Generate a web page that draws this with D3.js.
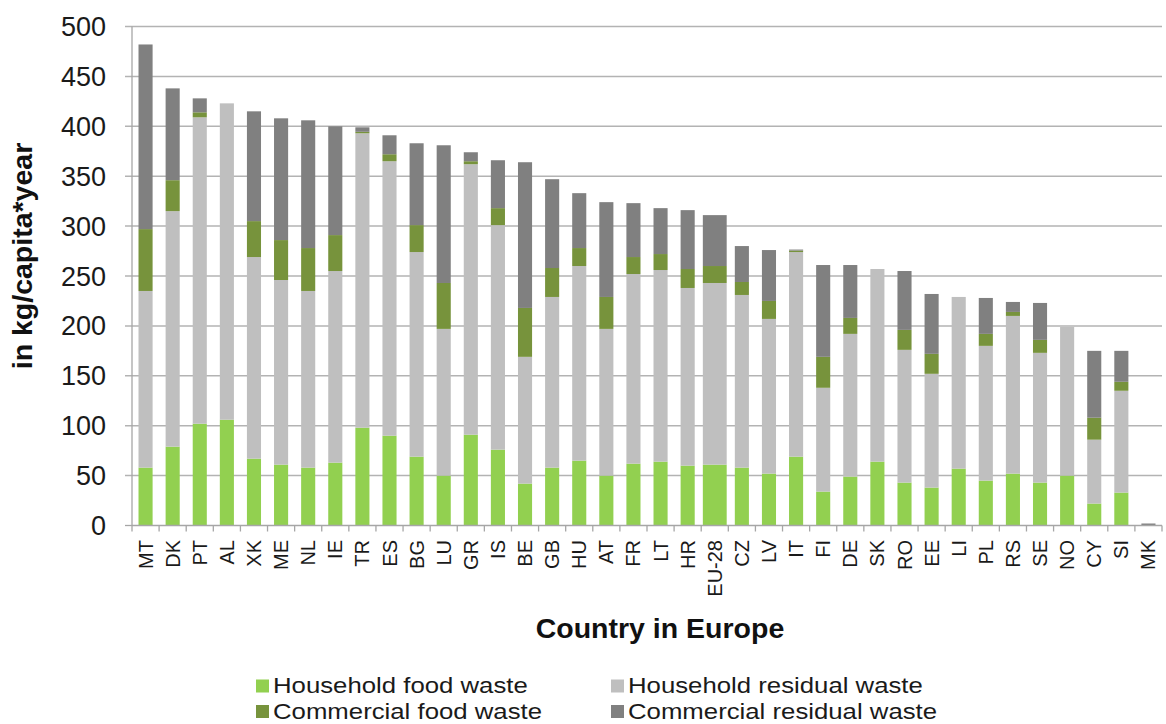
<!DOCTYPE html>
<html><head><meta charset="utf-8">
<script src="https://cdn.jsdelivr.net/npm/d3@7"></script>
<style>body{margin:0;background:#fff;} svg{display:block;font-family:"Liberation Sans",Arial,sans-serif;}</style>
</head><body>
<svg id="c" width="1166" height="724"></svg>
<script>
const categories = ["MT","DK","PT","AL","XK","ME","NL","IE","TR","ES","BG","LU","GR","IS","BE","GB","HU","AT","FR","LT","HR","EU-28","CZ","LV","IT","FI","DE","SK","RO","EE","LI","PL","RS","SE","NO","CY","SI","MK"];
const householdFood =    [58,79,102,106,67,61,58,63,98,90,69,50,91,76,42,58,65,50,62,64,60,61,58,52,69,34,49,64,43,38,57,45,52,43,50,22,33,0];
const householdResidual =[177,236,307,317,202,185,177,192,295,275,205,147,271,225,127,171,195,147,190,192,178,182,173,155,205,104,143,193,133,114,172,135,158,130,149,64,102,0];
const commercialFood =   [62,31,5,0,36,40,43,36,1.5,7,27,46,3,17,49,29,18,32,17,16,19,17,13,18,1.5,31,16,0,20,20,0,12,4,13,0,22,9,0];
const commercialResidual=[185,92,14,0,110,122,128,109,4.5,19,82,138,9,48,146,89,55,95,54,46,59,51,36,51,1,92,53,0,59,60,0,36,10,37,0,67,31,2];
const seriesNames = ["Household food waste","Household residual waste","Commercial food waste","Commercial residual waste"];
const seriesColors = ["#92d050","#bfbfbf","#77933c","#808080"];
const yTicks = [0,50,100,150,200,250,300,350,400,450,500];

const rows = categories.map((c,i)=>({cat:c, s0:householdFood[i], s1:householdResidual[i], s2:commercialFood[i], s3:commercialResidual[i]}));
const stack = d3.stack().keys(["s0","s1","s2","s3"])(rows);

const svg = d3.select("#c");
const pLeft = 132, pRight = 1162, pTop = 26.5, pBottom = 525.5;
const x = d3.scaleBand().domain(categories).range([pLeft,pRight]).paddingInner(0.48).paddingOuter(0.24);
const y = d3.scaleLinear().domain([0,500]).range([pBottom,pTop]);

// gridlines
svg.append("g").selectAll("line").data(yTicks.filter(d=>d>0)).join("line")
  .attr("x1",pLeft-7).attr("x2",pRight).attr("y1",d=>y(d)).attr("y2",d=>y(d))
  .attr("stroke","#b3b3b3").attr("stroke-width",1.5);

// bars
const step = x.step();
svg.append("g").selectAll("g").data(stack).join("g")
  .attr("fill",(d,i)=>seriesColors[i])
  .selectAll("rect").data(d=>d).join("rect")
  .attr("x",d=>{const w = d.data.cat==="EU-28"? step*0.88 : x.bandwidth(); return x(d.data.cat)+x.bandwidth()/2-w/2;})
  .attr("width",d=> d.data.cat==="EU-28"? step*0.88 : x.bandwidth())
  .attr("y",d=>y(d[1]))
  .attr("height",d=>Math.max(0,y(d[0])-y(d[1])));

// y axis
svg.append("line").attr("x1",pLeft).attr("x2",pLeft).attr("y1",pTop).attr("y2",pBottom).attr("stroke","#a6a6a6").attr("stroke-width",1.3);
svg.append("line").attr("x1",pLeft-7).attr("x2",pLeft).attr("y1",y(0)).attr("y2",y(0)).attr("stroke","#a6a6a6").attr("stroke-width",1.3);
svg.append("g").selectAll("text").data(yTicks).join("text")
  .attr("x",106).attr("y",d=>y(d)+9.5).attr("text-anchor","end")
  .attr("font-size",27).attr("fill","#1a1a1a").text(d=>d);

// x axis
svg.append("line").attr("x1",pLeft).attr("x2",pRight).attr("y1",pBottom).attr("y2",pBottom).attr("stroke","#a6a6a6").attr("stroke-width",1.3);
const boundaries = categories.map(c=>x(c)-x.step()*x.paddingInner()/2);
boundaries.push(pRight);
svg.append("g").selectAll("line").data(boundaries).join("line")
  .attr("x1",d=>d).attr("x2",d=>d).attr("y1",pBottom).attr("y2",pBottom+6)
  .attr("stroke","#a6a6a6").attr("stroke-width",1.3);
svg.append("g").selectAll("text").data(categories).join("text")
  .attr("transform",d=>`translate(${x(d)+x.bandwidth()/2+7},540) rotate(-90)`)
  .attr("text-anchor","end").attr("font-size",20).attr("fill","#1a1a1a").text(d=>d);

// axis titles
svg.append("text").attr("x",660).attr("y",638).attr("text-anchor","middle")
  .attr("font-size",28.5).attr("font-weight","bold").attr("fill","#111").text("Country in Europe");
svg.append("text").attr("transform","translate(32,256) rotate(-90)").attr("text-anchor","middle")
  .attr("font-size",28.5).attr("font-weight","bold").attr("fill","#111").text("in kg/capita*year");

// legend
const legPos = [[256,679.5],[611,679.5],[256,705],[611,705]];
const lg = svg.append("g").selectAll("g").data(seriesNames).join("g")
  .attr("transform",(d,i)=>`translate(${legPos[i][0]},${legPos[i][1]})`);
lg.append("rect").attr("width",13).attr("height",13).attr("fill",(d,i)=>seriesColors[i]);
lg.append("text").attr("transform","translate(17,13.5) scale(1.12,1)").attr("font-size",23).attr("fill","#1a1a1a").text(d=>d);
</script>
</body></html>
